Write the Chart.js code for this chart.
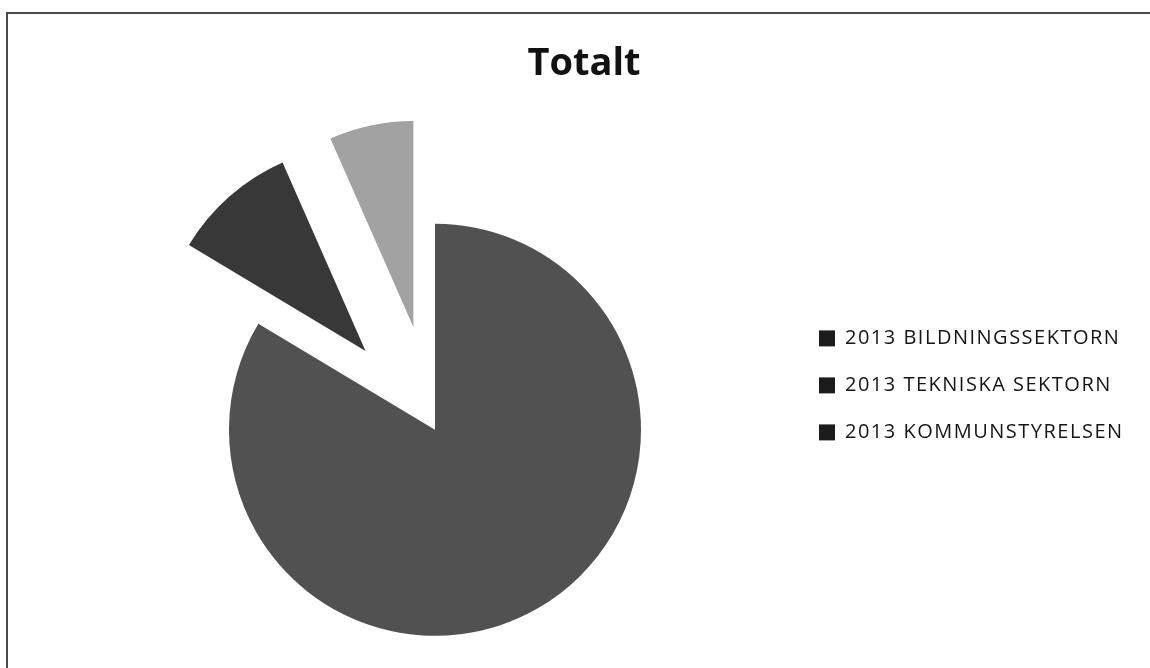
<!DOCTYPE html>
<html lang="sv">
<head>
    <meta charset="UTF-8">
    <title>Totalt</title>
    <script src="https://cdn.jsdelivr.net/npm/chart.js@4.4.0/dist/chart.umd.min.js"></script>
    <style>
        html, body { margin: 0; padding: 0; background: #fff; overflow: hidden; }
        .ram { position: absolute; left: 0; top: 0; width: 1150px; height: 668px; }
        .kant { position: absolute; left: 6px; top: 12px; width: 1144px; height: 656px;
                border-top: 2px solid #4a4a4a; border-left: 2px solid #4a4a4a; box-sizing: border-box; }
        #diagram { position: absolute; left: 0; top: 0; }
    </style>
</head>
<body>
<div class="ram">
    <div class="kant"></div>
    <canvas id="diagram" width="1150" height="668"></canvas>
</div>
<script>
// data (andel i procent)
var kategorier = ['2013 BILDNINGSSEKTORN', '2013 TEKNISKA SEKTORN', '2013 KOMMUNSTYRELSEN'];
var andelar = [83.6, 9.8, 6.6];
var fargerna = ['#515151', '#383838', '#a2a2a2'];
var utbrytning = [0, 105, 105]; // px, utbrutna bitar som i Excel

var typsnitt = '"Open Sans", Lato, sans-serif';

// chart.js egen offset gör bitarna större och smalare, så flytta dem själv
// längs bitens mittvinkel
var bryttUt = {
    id: 'bryttUt',
    afterDatasetsUpdate: function (c) {
        c.getDatasetMeta(0).data.forEach(function (arc, i) {
            var mitt = (arc.startAngle + arc.endAngle) / 2;
            arc.x += Math.cos(mitt) * utbrytning[i];
            arc.y += Math.sin(mitt) * utbrytning[i];
        });
    }
};

// legenden får gå ut till kanten (annars klipps texten), och lite luftigare text
var legendFix = {
    id: 'legendFix',
    afterLayout: function (c) {
        var lg = c.legend;
        lg.right = c.width;
        lg.width = lg.right - lg.left;
        if (!lg._luftig) {
            var rita = lg.draw;
            lg._luftig = true;
            lg.draw = function () {
                c.ctx.save();
                c.ctx.letterSpacing = '1.5px';
                rita.apply(lg, arguments);
                c.ctx.restore();
            };
        }
    }
};

var ctx = document.getElementById('diagram').getContext('2d');
var chart = new Chart(ctx, {
    type: 'pie',
    plugins: [bryttUt, legendFix],
    data: {
        labels: kategorier,
        datasets: [{
            data: andelar,
            backgroundColor: fargerna,
            borderWidth: 0,
            hoverOffset: 0,
            radius: 206
        }]
    },
    options: {
        responsive: false,
        animation: false,
        radius: 206,
        layout: { padding: { left: 78, right: 60, top: 0, bottom: 0 } },
        plugins: {
            title: {
                display: true,
                text: 'Totalt',
                color: '#111',
                font: { family: typsnitt, size: 38, weight: 'bold' },
                padding: { top: 41, bottom: 105 }
            },
            legend: {
                position: 'right',
                align: 'start',
                maxWidth: 298,
                title: { display: true, text: ' ', font: { size: 12 }, padding: { top: 0, bottom: 287 } },
                labels: {
                    color: '#151515',
                    font: { family: typsnitt, size: 20, weight: '500' },
                    boxWidth: 16,
                    boxHeight: 16,
                    padding: 27,
                    generateLabels: function (c) {
                        var items = Chart.overrides.pie.plugins.legend.labels.generateLabels(c);
                        items.forEach(function (it) {
                            it.fillStyle = '#1c1c1c';
                            it.strokeStyle = '#1c1c1c';
                            it.lineWidth = 0;
                        });
                        return items;
                    }
                }
            },
            tooltip: { enabled: false }
        }
    }
});
</script>
</body>
</html>
